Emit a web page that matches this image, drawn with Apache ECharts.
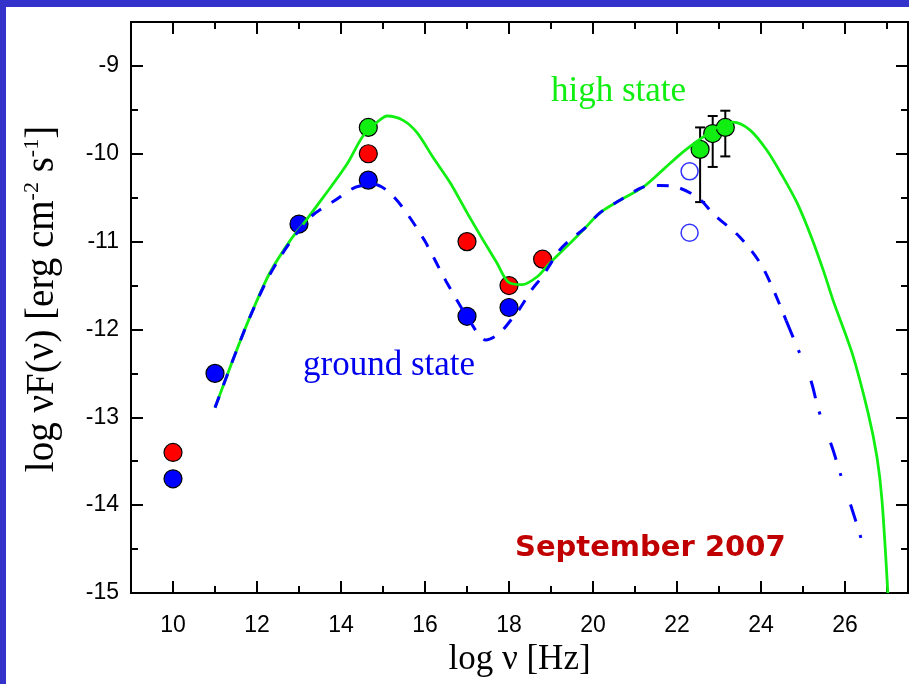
<!DOCTYPE html>
<html>
<head>
<meta charset="utf-8">
<script src="https://cdn.jsdelivr.net/npm/echarts@6/dist/echarts.min.js"></script>
<style>
  html, body { margin: 0; padding: 0; background: #ffffff; }
  #chart { width: 909px; height: 684px; }
</style>
</head>
<body>
<div id="chart"></div>
<script>
// Spectral energy distribution, September 2007

// Axis ticks
const xMajorTicks = [10, 12, 14, 16, 18, 20, 22, 24, 26];
const xMinorTicks = [11, 13, 15, 17, 19, 21, 23, 25, 27];
const yMajorTicks = [-15, -14, -13, -12, -11, -10, -9];
const yMinorTicks = [-14.5, -13.5, -12.5, -11.5, -10.5, -9.5, -8.5];

// Model curve: high state (log nu, log nuFnu)
const highX = [11.0, 11.4, 11.83, 12.3, 12.8, 13.1, 13.57, 14.14, 14.52, 14.86, 15.1, 15.48, 15.81, 16.19, 16.6, 17.0, 17.38, 17.71, 17.98, 18.31, 18.67, 18.98, 19.45, 19.8, 20.17, 20.64, 21.19, 21.67, 22.07, 22.36, 22.62, 22.95, 23.33, 23.74, 24.14, 24.52, 24.86, 25.2, 25.5, 25.71, 26.17, 26.55, 26.76, 26.88, 27.02];
const highY = [-12.89, -12.38, -11.86, -11.36, -10.98, -10.8, -10.5, -10.12, -9.8, -9.64, -9.57, -9.62, -9.76, -10.04, -10.33, -10.67, -10.98, -11.24, -11.46, -11.49, -11.4, -11.24, -11.02, -10.85, -10.67, -10.53, -10.38, -10.18, -10.01, -9.9, -9.81, -9.7, -9.64, -9.73, -9.96, -10.26, -10.56, -10.95, -11.35, -11.66, -12.27, -12.95, -13.45, -13.94, -15.0];

// Model curve: ground state
const groundX = [11.0, 11.4, 11.83, 12.3, 12.8, 13.3, 13.86, 14.35, 14.8, 15.1, 15.45, 15.98, 16.5, 17.1, 17.45, 17.76, 18.1, 18.26, 18.57, 18.79, 19.2, 19.45, 19.8, 20.17, 20.64, 21.19, 21.6, 22.0, 22.5, 22.9, 23.5, 24.05, 24.6];
const groundY = [-12.89, -12.38, -11.86, -11.38, -11.0, -10.71, -10.53, -10.38, -10.35, -10.42, -10.6, -10.98, -11.45, -11.93, -12.12, -12.05, -11.86, -11.76, -11.53, -11.4, -11.1, -10.98, -10.85, -10.67, -10.53, -10.38, -10.36, -10.38, -10.5, -10.7, -10.95, -11.3, -11.9];
const groundTailX = [24.6, 24.86, 25.2, 25.36, 25.7, 25.88, 26.25, 26.55];
const groundTailY = [-11.9, -12.2, -12.6, -12.9, -13.35, -13.63, -14.17, -14.65];

// Observations
const highStateX = [14.65, 22.55, 22.85, 23.15];
const highStateY = [-9.7, -9.95, -9.77, -9.7];
const highErrLow = [null, -10.55, -10.15, -10.03];
const highErrHigh = [null, -9.7, -9.57, -9.51];

const midStateX = [10, 14.65, 17, 18, 18.8];
const midStateY = [-13.4, -10.0, -11.0, -11.5, -11.2];

const groundStateX = [10, 11, 13, 14.65, 17, 18];
const groundStateY = [-13.7, -12.5, -10.8, -10.3, -11.85, -11.75];

const upperLimitX = [22.3, 22.3];
const upperLimitY = [-10.2, -10.9];

const zip = (xs, ys) => xs.map((x, i) => [x, ys[i]]);
const errData = highStateX.map((x, i) => [x, highErrLow[i], highErrHigh[i]]).filter(d => d[1] !== null);

const X_MIN = 9, X_MAX = 27.5, Y_MIN = -15, Y_MAX = -8.5;
const SANS = '"Liberation Sans", Arial, sans-serif';
const SERIF = '"Liberation Serif", "Times New Roman", serif';

function xAxisDef(pos, ticks, len, withLabels) {
  return {
    type: 'value', position: pos, min: X_MIN, max: X_MAX,
    axisLine: { show: true, onZero: false, lineStyle: { color: '#000', width: 2 } },
    axisTick: { show: true, inside: true, length: len, customValues: ticks, lineStyle: { color: '#000', width: 2 } },
    axisLabel: withLabels ? {
      show: true, customValues: ticks, margin: 21, color: '#000', fontSize: 23, fontFamily: SANS
    } : { show: false },
    splitLine: { show: false }
  };
}
function yAxisDef(pos, ticks, len, withLabels) {
  return {
    type: 'value', position: pos, min: Y_MIN, max: Y_MAX,
    axisLine: { show: true, onZero: false, lineStyle: { color: '#000', width: 2 } },
    axisTick: { show: true, inside: true, length: len, customValues: ticks, lineStyle: { color: '#000', width: 2 } },
    axisLabel: withLabels ? {
      show: true, customValues: ticks, margin: 12, color: '#000', fontSize: 23, fontFamily: SANS
    } : { show: false },
    splitLine: { show: false }
  };
}

const xAxes = [
  Object.assign(xAxisDef('bottom', xMajorTicks, 12, true), {
    name: 'log ν [Hz]', nameLocation: 'middle', nameGap: 48,
    nameTextStyle: { fontFamily: SERIF, fontSize: 35, color: '#000' }
  }),
  xAxisDef('bottom', xMinorTicks, 7, false),
  xAxisDef('top', xMajorTicks, 12, false),
  xAxisDef('top', xMinorTicks, 7, false)
];
const yAxes = [
  yAxisDef('left', yMajorTicks, 12, true),
  yAxisDef('left', yMinorTicks, 7, false),
  yAxisDef('right', yMajorTicks, 12, false),
  yAxisDef('right', yMinorTicks, 7, false)
];

const markerBorder = { borderColor: '#000', borderWidth: 1.2 };

const option = {
  backgroundColor: '#ffffff',
  animation: false,
  grid: { left: 131, right: 1, top: 22, bottom: 91, containLabel: false },
  xAxis: xAxes,
  yAxis: yAxes,
  graphic: [
    { type: 'rect', left: 0, top: 0, shape: { width: 909, height: 7 }, style: { fill: '#3333cc' }, z: 100 },
    { type: 'rect', left: 0, top: 0, shape: { width: 6, height: 684 }, style: { fill: '#3333cc' }, z: 100 },
    // vertical axis title
    { type: 'text', x: 43, y: 299, rotation: Math.PI / 2, z: 50,
      style: {
        text: 'log νF(ν) [erg cm{sup|-2} s{sup|-1}]',
        fill: '#000', fontFamily: SERIF, fontSize: 39,
        align: 'center', verticalAlign: 'middle',
        rich: {
          sup: { fontFamily: SERIF, fontSize: 22, fill: '#000', verticalAlign: 'top', lineHeight: 44 }
        }
      } },
    { type: 'text', x: 551, y: 92, z: 50,
      style: { text: 'high state', fill: '#11ee11', font: '35px "Liberation Serif", "Times New Roman", serif', verticalAlign: 'middle' } },
    { type: 'text', x: 303, y: 366, z: 50,
      style: { text: 'ground state', fill: '#0000ee', font: '35px "Liberation Serif", "Times New Roman", serif', verticalAlign: 'middle' } },
    { type: 'text', x: 515, y: 548, z: 50,
      style: { text: 'September 2007', fill: '#c00000', font: 'bold 29px "DejaVu Sans", Verdana, sans-serif', verticalAlign: 'middle' } }
  ],
  series: [
    {
      type: 'custom', name: 'errors', xAxisIndex: 0, yAxisIndex: 0, z: 2,
      data: errData,
      renderItem: function (params, api) {
        const x = api.value(0);
        const lo = api.coord([x, api.value(1)]);
        const hi = api.coord([x, api.value(2)]);
        const cap = 5;
        const st = { stroke: '#000', lineWidth: 2 };
        return {
          type: 'group',
          children: [
            { type: 'line', shape: { x1: lo[0], y1: lo[1], x2: hi[0], y2: hi[1] }, style: st },
            { type: 'line', shape: { x1: lo[0] - cap, y1: lo[1], x2: lo[0] + cap, y2: lo[1] }, style: st },
            { type: 'line', shape: { x1: hi[0] - cap, y1: hi[1], x2: hi[0] + cap, y2: hi[1] }, style: st }
          ]
        };
      }
    },
    {
      type: 'scatter', name: 'ground', z: 3, symbolSize: 18,
      data: zip(groundStateX, groundStateY),
      itemStyle: Object.assign({ color: '#0000ff', opacity: 1 }, markerBorder)
    },
    {
      type: 'scatter', name: 'mid', z: 3, symbolSize: 18,
      data: zip(midStateX, midStateY),
      itemStyle: Object.assign({ color: '#ff0000', opacity: 1 }, markerBorder)
    },
    {
      type: 'scatter', name: 'high', z: 3, symbolSize: 18,
      data: zip(highStateX, highStateY),
      itemStyle: Object.assign({ color: '#11ee11', opacity: 1 }, markerBorder)
    },
    {
      type: 'scatter', name: 'limits', z: 3, symbolSize: 17,
      data: zip(upperLimitX, upperLimitY),
      itemStyle: { color: 'rgba(255,255,255,0)', borderColor: '#0000ff', borderWidth: 1.5 }
    },
    {
      type: 'line', name: 'high model', z: 4, showSymbol: false, smooth: 0.3,
      data: zip(highX, highY),
      lineStyle: { color: '#11ee11', width: 2.8 }
    },
    {
      type: 'line', name: 'ground model', z: 5, showSymbol: false, smooth: 0.3,
      data: zip(groundX, groundY),
      lineStyle: { color: '#0000ff', width: 3, type: [12, 12] }
    },
    {
      type: 'line', name: 'ground model tail', z: 5, showSymbol: false, smooth: 0.3,
      data: zip(groundTailX, groundTailY),
      lineStyle: { color: '#0000ff', width: 3, type: [18, 14, 3, 30] }
    }
  ]
};

const chart = echarts.init(document.getElementById('chart'), null, { renderer: 'canvas' });
chart.setOption(option);
</script>
</body>
</html>
